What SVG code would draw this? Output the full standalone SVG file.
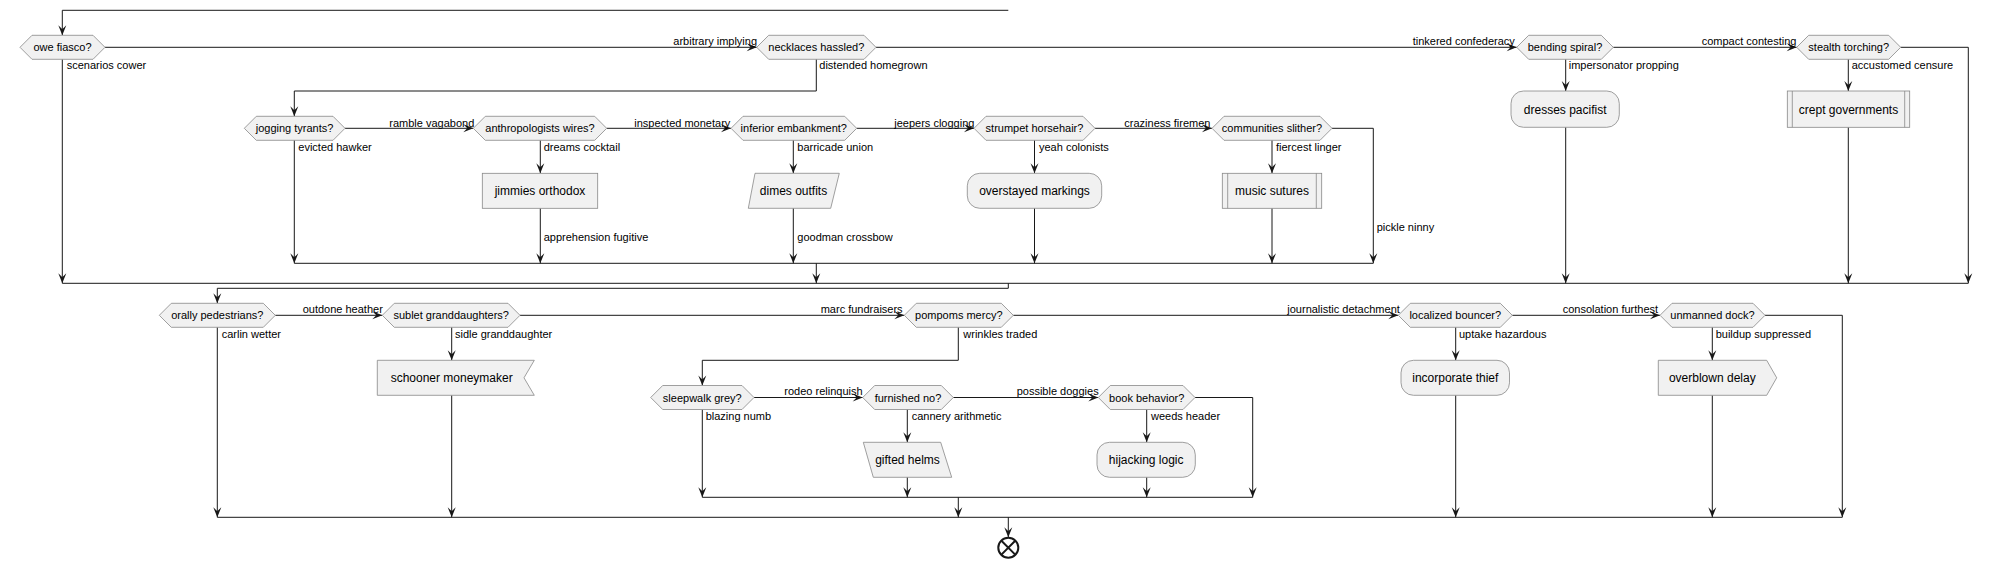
<svg xmlns="http://www.w3.org/2000/svg" width="1993" height="567" viewBox="0 0 1993 567">
<style>
.hex{fill:#F1F1F1;stroke:#888888;stroke-width:0.8}
.box{fill:#F1F1F1;stroke:#888888;stroke-width:0.8}
.inner{fill:none;stroke:#888888;stroke-width:0.8}
.ht{font-family:"Liberation Sans",Arial,sans-serif;font-size:11px;fill:#000;text-anchor:middle}
.bt{font-family:"Liberation Sans",Arial,sans-serif;font-size:12px;fill:#000;text-anchor:middle}
.lb{font-family:"Liberation Sans",Arial,sans-serif;font-size:11px;fill:#000}
.ln{fill:none;stroke:#181818;stroke-width:1}
.ar{fill:none;stroke:#181818;stroke-width:1;marker-end:url(#ah)}
</style>
<defs>
<marker id="ah" viewBox="-11 -5 12 10" refX="0" refY="0" markerWidth="12" markerHeight="10" markerUnits="userSpaceOnUse" orient="auto">
<path d="M0,0 L-10,-4 L-6,0 L-10,4 Z" fill="#181818"/>
</marker>
</defs>

<g id="connectors">
<path class="ar" d="M1008.3,10.3 H62.3 V35.3"/>
<path class="ar" d="M105,47.3 H756.7"/>
<path class="ar" d="M876,47.3 H1516.7"/>
<path class="ar" d="M1613.3,47.3 H1796.7"/>
<path class="ar" d="M1900.7,47.3 H1968.3 V283.3"/>
<path class="ar" d="M62.3,59.3 V283.3"/>
<path class="ar" d="M816.3,59.3 V91 H294.3 V116.3"/>
<path class="ar" d="M1565.7,59.3 V91"/>
<path class="ar" d="M1565.7,127.3 V283.3"/>
<path class="ar" d="M1848.3,59.3 V91"/>
<path class="ar" d="M1848.3,127.3 V283.3"/>
<path class="ar" d="M345,128.3 H473.3"/>
<path class="ar" d="M294.3,140.3 V263.3"/>
<path class="ar" d="M606.7,128.3 H731"/>
<path class="ar" d="M540.3,140.3 V173.3"/>
<path class="ar" d="M540.3,208.3 V263.3"/>
<path class="ar" d="M856.7,128.3 H974"/>
<path class="ar" d="M793.3,140.3 V173.3"/>
<path class="ar" d="M793.3,208.3 V263.3"/>
<path class="ar" d="M1095,128.3 H1212"/>
<path class="ar" d="M1034.5,140.3 V173.3"/>
<path class="ar" d="M1034.5,208.3 V263.3"/>
<path class="ar" d="M1272,140.3 V173.3"/>
<path class="ar" d="M1272,208.3 V263.3"/>
<path class="ar" d="M1332,128.3 H1373.3 V263.3"/>
<path class="ln" d="M294.3,263.3 H1373.3"/>
<path class="ar" d="M816.3,263.3 V283.3"/>
<path class="ln" d="M62.3,283.3 H1968.3"/>
<path class="ar" d="M1008.3,283.3 V288.3 H217.3 V303.3"/>
<path class="ar" d="M275.3,315.3 H382.3"/>
<path class="ar" d="M217.3,327.3 V517.3"/>
<path class="ar" d="M520,315.3 H904.3"/>
<path class="ar" d="M451.7,327.3 V360.3"/>
<path class="ar" d="M451.7,395.3 V517.3"/>
<path class="ar" d="M1013.3,315.3 H1398.3"/>
<path class="ar" d="M958.3,327.3 V360.3 H702.3 V385.5"/>
<path class="ar" d="M754,397.5 H862.7"/>
<path class="ar" d="M702.3,409.5 V497.3"/>
<path class="ar" d="M953.3,397.5 H1098.3"/>
<path class="ar" d="M907.3,409.5 V442.3"/>
<path class="ar" d="M907.3,477.3 V497.3"/>
<path class="ar" d="M1195,397.5 H1252.7 V497.3"/>
<path class="ar" d="M1146.7,409.5 V442.3"/>
<path class="ar" d="M1146.7,477.3 V497.3"/>
<path class="ln" d="M702.3,497.3 H1252.7"/>
<path class="ar" d="M958.3,497.3 V517.3"/>
<path class="ar" d="M1512.3,315.3 H1660"/>
<path class="ar" d="M1455.7,327.3 V360.3"/>
<path class="ar" d="M1455.7,395.3 V517.3"/>
<path class="ar" d="M1712.3,327.3 V360.3"/>
<path class="ar" d="M1712.3,395.3 V517.3"/>
<path class="ar" d="M1765,315.3 H1842.3 V517.3"/>
<path class="ln" d="M217.3,517.3 H1842.3"/>
<path class="ar" d="M1008.3,517.3 V537.3"/>
<text class="lb" x="66.7" y="69">scenarios cower</text>
<text class="lb" x="673.3" y="44.5">arbitrary implying</text>
<text class="lb" x="819.3" y="69">distended homegrown</text>
<text class="lb" x="1412.7" y="44.5">tinkered confederacy</text>
<text class="lb" x="1568.7" y="69">impersonator propping</text>
<text class="lb" x="1701.7" y="44.5">compact contesting</text>
<text class="lb" x="1851.7" y="69">accustomed censure</text>
<text class="lb" x="389.3" y="126.5">ramble vagabond</text>
<text class="lb" x="298.3" y="151">evicted hawker</text>
<text class="lb" x="634.3" y="126.5">inspected monetary</text>
<text class="lb" x="543.7" y="151">dreams cocktail</text>
<text class="lb" x="543.7" y="241">apprehension fugitive</text>
<text class="lb" x="894.3" y="126.5">jeepers clogging</text>
<text class="lb" x="797.3" y="151">barricade union</text>
<text class="lb" x="797.3" y="241">goodman crossbow</text>
<text class="lb" x="1124.3" y="126.5">craziness firemen</text>
<text class="lb" x="1039" y="151">yeah colonists</text>
<text class="lb" x="1276" y="151">fiercest linger</text>
<text class="lb" x="1376.7" y="230.7">pickle ninny</text>
<text class="lb" x="302.7" y="312.5">outdone heather</text>
<text class="lb" x="221.7" y="337.7">carlin wetter</text>
<text class="lb" x="820.7" y="312.5">marc fundraisers</text>
<text class="lb" x="455" y="337.7">sidle granddaughter</text>
<text class="lb" x="963.3" y="337.7">wrinkles traded</text>
<text class="lb" x="784.3" y="394.5">rodeo relinquish</text>
<text class="lb" x="705.7" y="420">blazing numb</text>
<text class="lb" x="1016.7" y="394.5">possible doggies</text>
<text class="lb" x="911.7" y="420">cannery arithmetic</text>
<text class="lb" x="1151" y="420">weeds header</text>
<text class="lb" x="1287.3" y="312.5">journalistic detachment</text>
<text class="lb" x="1459" y="337.7">uptake hazardous</text>
<text class="lb" x="1562.7" y="312.5">consolation furthest</text>
<text class="lb" x="1715.7" y="337.7">buildup suppressed</text>
</g>

<g id="owe-fiasco"><polygon class="hex" points="20,47.3 32,35.3 93,35.3 105,47.3 93,59.3 32,59.3"/><text class="ht" x="62.5" y="51.3">owe fiasco?</text></g>
<g id="necklaces-hassled"><polygon class="hex" points="756.7,47.3 768.7,35.3 864,35.3 876,47.3 864,59.3 768.7,59.3"/><text class="ht" x="816.3" y="51.3">necklaces hassled?</text></g>
<g id="bending-spiral"><polygon class="hex" points="1516.7,47.3 1528.7,35.3 1601.3,35.3 1613.3,47.3 1601.3,59.3 1528.7,59.3"/><text class="ht" x="1565" y="51.3">bending spiral?</text></g>
<g id="stealth-torching"><polygon class="hex" points="1796.7,47.3 1808.7,35.3 1888.7,35.3 1900.7,47.3 1888.7,59.3 1808.7,59.3"/><text class="ht" x="1848.7" y="51.3">stealth torching?</text></g>
<g id="dresses-pacifist"><rect class="box" x="1511" y="91" width="108.3" height="36.3" rx="12.5"/><text class="bt" x="1565.2" y="113.6">dresses pacifist</text></g>
<g id="crept-governments"><rect class="box" x="1787.3" y="91" width="122.4" height="36.3"/><path class="inner" d="M1792.3,91 V127.3 M1904.7,91 V127.3"/><text class="bt" x="1848.5" y="113.6">crept governments</text></g>

<g id="jogging-tyrants"><polygon class="hex" points="244.3,128.3 256.3,116.3 333,116.3 345,128.3 333,140.3 256.3,140.3"/><text class="ht" x="294.6" y="132.3">jogging tyrants?</text></g>
<g id="anthropologists-wires"><polygon class="hex" points="473.3,128.3 485.3,116.3 594.7,116.3 606.7,128.3 594.7,140.3 485.3,140.3"/><text class="ht" x="540" y="132.3">anthropologists wires?</text></g>
<g id="inferior-embankment"><polygon class="hex" points="731,128.3 743,116.3 844.7,116.3 856.7,128.3 844.7,140.3 743,140.3"/><text class="ht" x="793.8" y="132.3">inferior embankment?</text></g>
<g id="strumpet-horsehair"><polygon class="hex" points="974,128.3 986,116.3 1083,116.3 1095,128.3 1083,140.3 986,140.3"/><text class="ht" x="1034.5" y="132.3">strumpet horsehair?</text></g>
<g id="communities-slither"><polygon class="hex" points="1212,128.3 1224,116.3 1320,116.3 1332,128.3 1320,140.3 1224,140.3"/><text class="ht" x="1272" y="132.3">communities slither?</text></g>
<g id="jimmies-orthodox"><rect class="box" x="482.3" y="173.3" width="115.4" height="35"/><text class="bt" x="540" y="195.3">jimmies orthodox</text></g>
<g id="dimes-outfits"><polygon class="box" points="755,173.3 839.3,173.3 830.7,208.3 748.3,208.3"/><text class="bt" x="793.5" y="195.3">dimes outfits</text></g>
<g id="overstayed-markings"><rect class="box" x="967.3" y="173.3" width="134.4" height="35" rx="12.5"/><text class="bt" x="1034.5" y="195.3">overstayed markings</text></g>
<g id="music-sutures"><rect class="box" x="1222.3" y="173.3" width="99.4" height="35"/><path class="inner" d="M1227.7,173.3 V208.3 M1316.3,173.3 V208.3"/><text class="bt" x="1272" y="195.3">music sutures</text></g>

<g id="orally-pedestrians"><polygon class="hex" points="159.3,315.3 171.3,303.3 263.3,303.3 275.3,315.3 263.3,327.3 171.3,327.3"/><text class="ht" x="217.3" y="319.3">orally pedestrians?</text></g>
<g id="sublet-granddaughters"><polygon class="hex" points="382.3,315.3 394.3,303.3 508,303.3 520,315.3 508,327.3 394.3,327.3"/><text class="ht" x="451.2" y="319.3">sublet granddaughters?</text></g>
<g id="schooner-moneymaker"><polygon class="box" points="377.3,360.3 534.3,360.3 524,377.8 534.3,395.3 377.3,395.3"/><text class="bt" x="451.7" y="382.3">schooner moneymaker</text></g>
<g id="pompoms-mercy"><polygon class="hex" points="904.3,315.3 916.3,303.3 1001.3,303.3 1013.3,315.3 1001.3,327.3 916.3,327.3"/><text class="ht" x="958.8" y="319.3">pompoms mercy?</text></g>
<g id="sleepwalk-grey"><polygon class="hex" points="650.7,397.5 662.7,385.5 742,385.5 754,397.5 742,409.5 662.7,409.5"/><text class="ht" x="702.3" y="401.5">sleepwalk grey?</text></g>
<g id="furnished-no"><polygon class="hex" points="862.7,397.5 874.7,385.5 941.3,385.5 953.3,397.5 941.3,409.5 874.7,409.5"/><text class="ht" x="908" y="401.5">furnished no?</text></g>
<g id="gifted-helms"><polygon class="box" points="863.3,442.3 940.7,442.3 951.7,477.3 873.3,477.3"/><text class="bt" x="907.5" y="464.3">gifted helms</text></g>
<g id="book-behavior"><polygon class="hex" points="1098.3,397.5 1110.3,385.5 1183,385.5 1195,397.5 1183,409.5 1110.3,409.5"/><text class="ht" x="1146.7" y="401.5">book behavior?</text></g>
<g id="hijacking-logic"><rect class="box" x="1097" y="442.3" width="98.3" height="35" rx="12.5"/><text class="bt" x="1146.2" y="464.3">hijacking logic</text></g>
<g id="localized-bouncer"><polygon class="hex" points="1398.3,315.3 1410.3,303.3 1500.3,303.3 1512.3,315.3 1500.3,327.3 1410.3,327.3"/><text class="ht" x="1455.3" y="319.3">localized bouncer?</text></g>
<g id="incorporate-thief"><rect class="box" x="1401" y="360.3" width="108.5" height="35" rx="12.5"/><text class="bt" x="1455.3" y="382.3">incorporate thief</text></g>
<g id="unmanned-dock"><polygon class="hex" points="1660,315.3 1672,303.3 1753,303.3 1765,315.3 1753,327.3 1672,327.3"/><text class="ht" x="1712.5" y="319.3">unmanned dock?</text></g>
<g id="overblown-delay"><polygon class="box" points="1658.3,360.3 1766.7,360.3 1776.7,377.8 1766.7,395.3 1658.3,395.3"/><text class="bt" x="1712.3" y="382.3">overblown delay</text></g>

<g id="end"><circle cx="1008.3" cy="547.7" r="10" fill="#FFFFFF" stroke="#181818" stroke-width="2"/><path d="M1001.4,540.8 L1015.2,554.6 M1015.2,540.8 L1001.4,554.6" stroke="#181818" stroke-width="2"/></g>
</svg>
